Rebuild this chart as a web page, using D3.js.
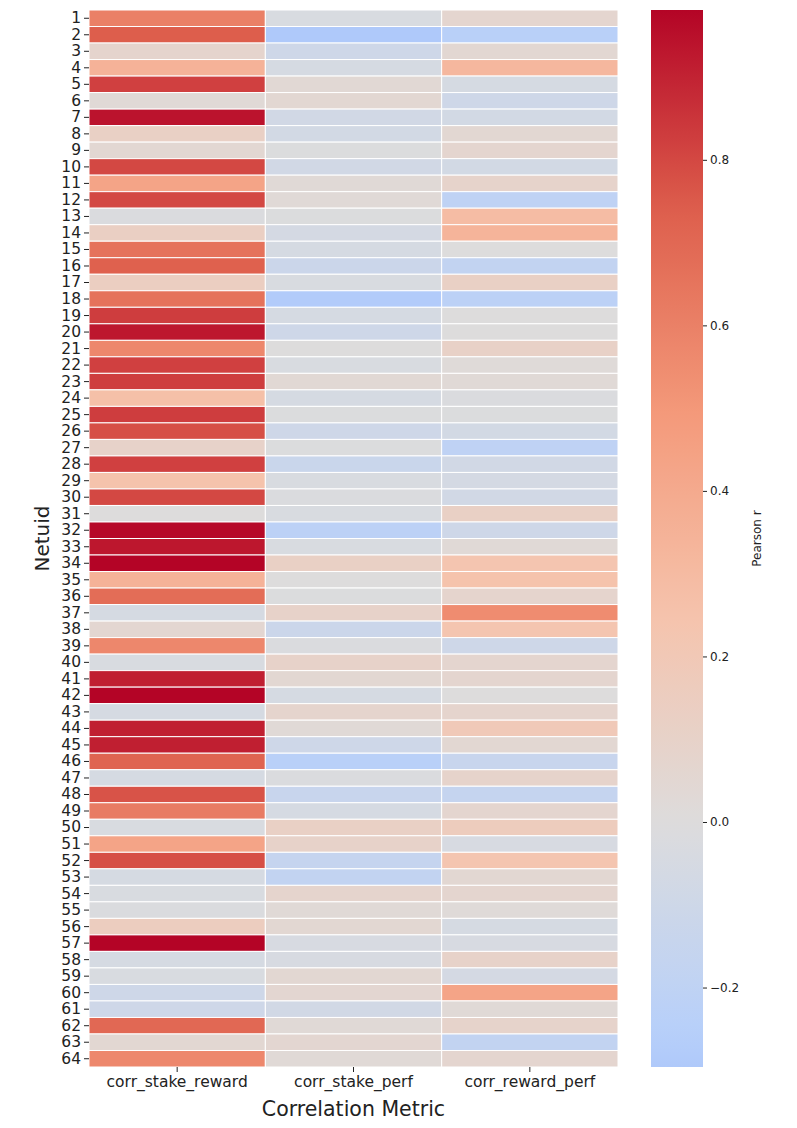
<!DOCTYPE html>
<html>
<head>
<meta charset="utf-8">
<script src="https://cdn.jsdelivr.net/npm/d3@7"></script>
<style>
  body { margin: 0; background: #fff; }
  text { font-family: "DejaVu Sans", sans-serif; fill: #222; }
</style>
</head>
<body>
<div id="chart"></div>
<script>
// Netuids shown on the y axis
const netuids = d3.range(1, 65);

// Correlation metrics on the x axis
const metrics = ['corr_stake_reward', 'corr_stake_perf', 'corr_reward_perf'];

// Pearson r per netuid, one array per metric
const corrStakeReward = [
  0.60, 0.74, 0.08, 0.35, 0.82, 0.03, 0.94, 0.12, 0.05, 0.80,
  0.43, 0.80, -0.02, 0.13, 0.66, 0.73, 0.14, 0.66, 0.83, 0.93,
  0.57, 0.82, 0.83, 0.27, 0.83, 0.78, 0.10, 0.82, 0.25, 0.80,
  0.00, 0.97, 0.93, 0.981, 0.35, 0.68, -0.05, 0.06, 0.57, -0.03,
  0.91, 0.98, -0.05, 0.91, 0.91, 0.72, -0.05, 0.77, 0.62, -0.03,
  0.43, 0.78, -0.05, -0.03, -0.02, 0.15, 0.98, -0.05, -0.03, -0.10,
  -0.10, 0.70, 0.05, 0.57
];
const corrStakePerf = [
  -0.03, -0.296, -0.10, -0.05, 0.04, 0.05, -0.08, -0.07, -0.01, -0.08,
  0.03, 0.03, -0.01, -0.06, -0.05, -0.12, -0.03, -0.28, -0.05, -0.10,
  0.00, -0.03, 0.04, -0.05, -0.01, -0.10, -0.01, -0.13, -0.03, -0.02,
  -0.03, -0.22, -0.03, 0.12, 0.00, -0.01, 0.10, -0.12, -0.02, 0.10,
  0.05, -0.05, 0.08, 0.03, -0.10, -0.24, -0.02, -0.14, -0.05, 0.12,
  0.10, -0.16, -0.18, 0.08, 0.03, 0.05, -0.04, -0.04, 0.05, 0.06,
  -0.08, 0.03, 0.06, 0.03
];
const corrRewardPerf = [
  0.07, -0.24, 0.05, 0.32, -0.05, -0.10, -0.07, 0.05, 0.07, -0.07,
  0.09, -0.20, 0.29, 0.34, 0.00, -0.18, 0.12, -0.22, 0.00, 0.00,
  0.11, 0.02, 0.03, -0.02, -0.01, -0.07, -0.20, -0.08, -0.06, -0.08,
  0.12, -0.10, 0.03, 0.23, 0.25, 0.08, 0.55, 0.23, -0.10, 0.07,
  0.07, 0.00, 0.08, 0.19, 0.05, -0.14, 0.09, -0.16, 0.07, 0.16,
  -0.04, 0.23, 0.05, 0.07, 0.02, -0.05, -0.04, 0.10, -0.06, 0.43,
  0.03, 0.09, -0.18, 0.07
];

// Colorbar tick values
const cbarTicks = [-0.2, 0.0, 0.2, 0.4, 0.6, 0.8];

const series = [corrStakeReward, corrStakePerf, corrRewardPerf];
const cells = [];
netuids.forEach((n, i) => {
  metrics.forEach((m, j) => cells.push({ netuid: n, metric: m, value: series[j][i] }));
});

const width = 797, height = 1128;
const margin = { top: 10, left: 89, right: 179, bottom: 61 };
const innerW = width - margin.left - margin.right;
const innerH = height - margin.top - margin.bottom;

const svg = d3.select('#chart').append('svg')
  .attr('width', width)
  .attr('height', height);

const x = d3.scaleBand().domain(metrics).range([margin.left, margin.left + innerW]);
const y = d3.scaleBand().domain(netuids).range([margin.top, margin.top + innerH]);

// coolwarm colormap, centred at 0 like seaborn's center=0
const coolwarm = d3.scaleLinear()
  .domain([0, 0.125, 0.25, 0.375, 0.5, 0.625, 0.75, 0.875, 1])
  .range(['#3b4cc0', '#6282ea', '#8db0fe', '#b8d0f9', '#dddcdc',
          '#f5c4ad', '#f49a7b', '#de604d', '#b40426'])
  .interpolate(d3.interpolateRgb);
const [vmin, vmax] = d3.extent(cells, d => d.value);
const vrange = Math.max(Math.abs(vmin), Math.abs(vmax));
const color = v => coolwarm((Math.max(vmin, Math.min(vmax, v)) + vrange) / (2 * vrange));

// heatmap cells
svg.append('g')
  .selectAll('rect')
  .data(cells)
  .join('rect')
  .attr('x', d => x(d.metric))
  .attr('y', d => y(d.netuid))
  .attr('width', x.bandwidth())
  .attr('height', y.bandwidth())
  .attr('fill', d => color(d.value))
  .attr('stroke', '#fff')
  .attr('stroke-width', 1);

// axes
const yAxis = svg.append('g')
  .attr('transform', `translate(${margin.left},0)`)
  .call(d3.axisLeft(y).tickSize(5).tickPadding(3));
const xAxis = svg.append('g')
  .attr('transform', `translate(0,${margin.top + innerH})`)
  .call(d3.axisBottom(x).tickSize(5).tickPadding(4));
[yAxis, xAxis].forEach(a => {
  a.select('.domain').remove();
  a.selectAll('line').attr('stroke', '#222');
  a.selectAll('text').style('font-size', '15.5px').attr('fill', '#222');
});

svg.append('text')
  .attr('transform', `translate(49,${margin.top + innerH / 2}) rotate(-90)`)
  .attr('text-anchor', 'middle')
  .style('font-size', '20px')
  .text('Netuid');

svg.append('text')
  .attr('x', margin.left + innerW / 2)
  .attr('y', 1116)
  .attr('text-anchor', 'middle')
  .style('font-size', '20.5px')
  .text('Correlation Metric');

// colorbar
const cbX = 651, cbW = 52;
const cbScale = d3.scaleLinear().domain([vmin, vmax]).range([margin.top + innerH, margin.top]);

const grad = svg.append('defs').append('linearGradient')
  .attr('id', 'cbar')
  .attr('x1', 0).attr('y1', 1).attr('x2', 0).attr('y2', 0);
d3.range(0, 1.0001, 0.02).forEach(t => {
  grad.append('stop')
    .attr('offset', t)
    .attr('stop-color', color(vmin + t * (vmax - vmin)));
});

svg.append('rect')
  .attr('x', cbX)
  .attr('y', margin.top)
  .attr('width', cbW)
  .attr('height', innerH)
  .attr('fill', 'url(#cbar)');

const cbAxis = svg.append('g')
  .attr('transform', `translate(${cbX + cbW},0)`)
  .call(d3.axisRight(cbScale).tickValues(cbarTicks).tickSize(4).tickPadding(3)
    .tickFormat(d => d3.format('.1f')(d).replace('-', '\u2212')));
cbAxis.select('.domain').remove();
cbAxis.selectAll('line').attr('stroke', '#222');
cbAxis.selectAll('text').style('font-size', '12px').attr('fill', '#222');

svg.append('text')
  .attr('transform', `translate(761,${margin.top + innerH / 2}) rotate(-90)`)
  .attr('text-anchor', 'middle')
  .style('font-size', '12px')
  .text('Pearson r');
</script>
</body>
</html>
